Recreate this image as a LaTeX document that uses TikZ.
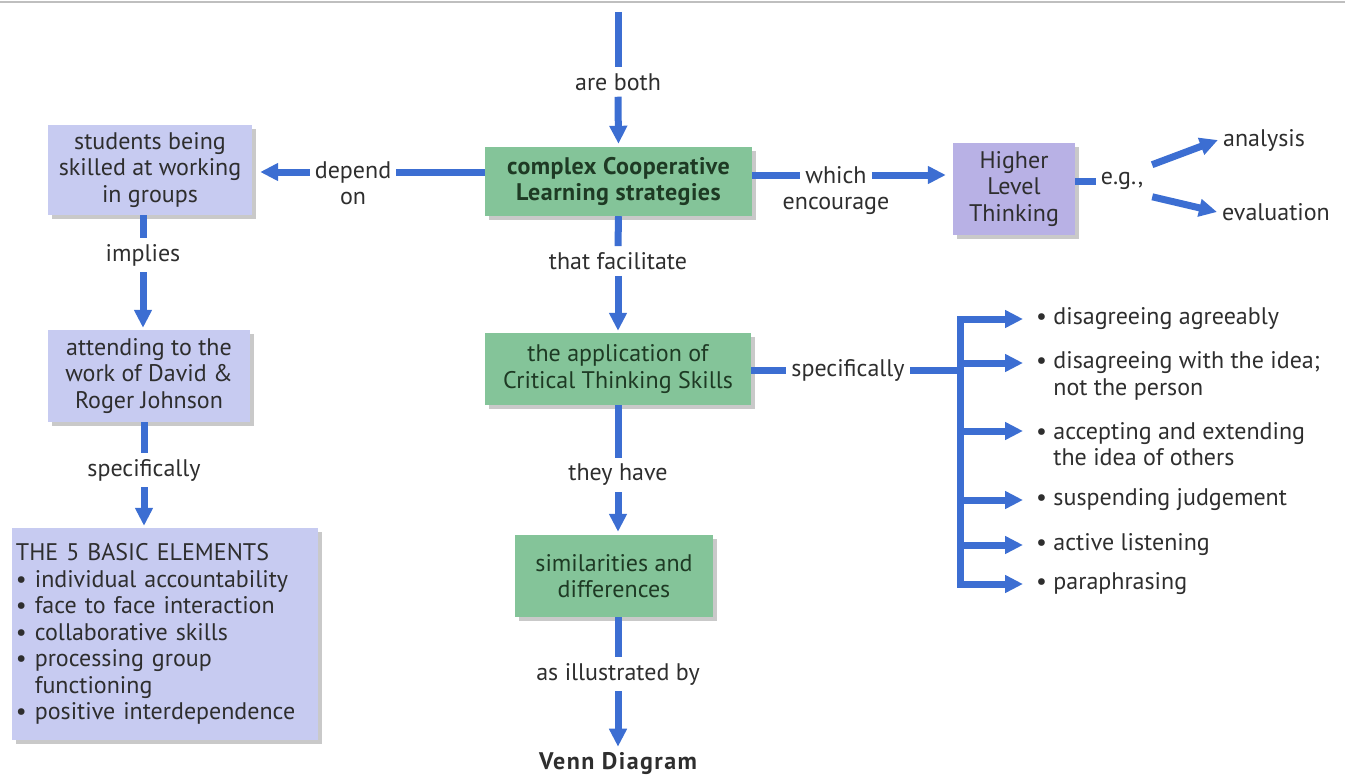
\documentclass[tikz,border=0pt]{standalone}
\usepackage{fontspec}
\setmainfont{PT Sans}
\usetikzlibrary{arrows.meta,shadows,calc}
\definecolor{arrowblue}{HTML}{3C6ED2}
\definecolor{boxgreen}{HTML}{84C499}
\definecolor{boxlav}{HTML}{C7CBF1}
\definecolor{boxpurple}{HTML}{B8B1E5}
\definecolor{textgray}{HTML}{2E2E2E}
\definecolor{textgreen}{HTML}{1E3A24}
\begin{document}
\begin{tikzpicture}[x=1pt,y=-1pt,
  every node/.style={font=\fontsize{24}{26.5}\selectfont, text=textgray},
  lbl/.style={inner xsep=5pt, inner ysep=6pt, align=center},
  boxbase/.style={draw=none, inner sep=0pt, align=center,
    drop shadow={shadow xshift=4pt, shadow yshift=-4pt, opacity=0.3, fill=black!70}},
  greenbox/.style={boxbase, fill=boxgreen, text=textgreen},
  lavbox/.style={boxbase, fill=boxlav},
  purplebox/.style={boxbase, fill=boxpurple},
  itembox/.style={anchor=west, inner sep=0pt, align=left},
  conn/.style={draw=arrowblue, line width=7pt},
  arr/.style={conn, -{Triangle[length=18pt,width=17pt]}},
]
\useasboundingbox (0,0) rectangle (1348,776);
\draw[gray!50, line width=2.5pt] (0,2) -- (1345,2);

% boxes
\node[greenbox, minimum width=267, minimum height=69, font=\fontsize{24}{26.5}\selectfont\bfseries\addfontfeature{LetterSpace=2}] (ccl) at (618.5,181.5) {complex Cooperative\\Learning strategies};
\node[greenbox, minimum width=266, minimum height=72] (app) at (618,369) {the application of\\Critical Thinking Skills};
\node[greenbox, minimum width=198, minimum height=82] (sim) at (614,576) {similarities and\\differences};
\node[lavbox, minimum width=204, minimum height=90] (stud) at (150,170) {students being\\skilled at working\\in groups};
\node[lavbox, minimum width=202, minimum height=92] (attend) at (149,376) {attending to the\\work of David \&\\Roger Johnson};
\node[lavbox, minimum width=306, minimum height=212, text width=298, align=left, inner xsep=4pt] (five) at (165,634)
  {THE 5 BASIC ELEMENTS\\
   • individual accountability\\
   • face to face interaction\\
   • collaborative skills\\
   • processing group\\
   \hphantom{• }functioning\\
   • positive interdependence};
\node[purplebox, minimum width=122, minimum height=92] (hlt) at (1014,189) {Higher\\Level\\Thinking};

% labels
\coordinate (topend) at (618,12);
\node[lbl] (areboth) at (618,82) {are both};
\node[lbl] (depend) at (353,172) {depend};
\node[lbl, inner ysep=0pt, anchor=base] (on) at ($(depend.base)+(0,26.5)$) {on};
\node[lbl] (which) at (836,175) {which};
\node[lbl, inner ysep=0pt, anchor=base] (encourage) at ($(which.base)+(0,26.5)$) {encourage};
\node[lbl] (eg) at (1122,181) {e.g.,};
\node[lbl] (analysis) at (1264,140) {analysis};
\node[lbl] (evaluation) at (1276,212) {evaluation};
\node[lbl] (implies) at (143,255) {implies};
\node[lbl] (spec1) at (144,470) {specifically};
\node[lbl] (facil) at (618,261) {that facilitate};
\node[lbl] (theyhave) at (618,475) {they have};
\node[lbl] (illus) at (618,674) {as illustrated by};
\node[lbl, font=\fontsize{24}{26}\selectfont\bfseries\addfontfeature{LetterSpace=6}] (venn) at (618,764) {Venn Diagram};
\node[lbl] (spec2) at (848,370) {specifically};

% items
\node[itembox] (it1) at (1036,319) {• disagreeing agreeably};
\node[itembox] (it2) at (1036,376) {• disagreeing with the idea;\\\hphantom{• }not the person};
\node[itembox] (it3) at (1036,444) {• accepting and extending\\\hphantom{• }the idea of others};
\node[itembox] (it4) at (1036,500) {• suspending judgement};
\node[itembox] (it5) at (1036,545) {• active listening};
\node[itembox] (it6) at (1036,584) {• paraphrasing};

\coordinate (t1) at ($(it1.west)+(-13,0)$);
\coordinate (t2) at ($(it2.west)+(-13,-13)$);
\coordinate (t3) at ($(it3.west)+(-13,-13)$);
\coordinate (t4) at ($(it4.west)+(-13,0)$);
\coordinate (t5) at ($(it5.west)+(-13,0)$);
\coordinate (t6) at ($(it6.west)+(-13,0)$);
\coordinate (sp) at (960,370);

% center column
\draw[conn] (topend) -- (areboth.north);
\draw[arr, shorten >=3pt] (areboth.south) -- (ccl.north);
\draw[conn] (ccl.south) -- (facil.north);
\draw[arr, shorten >=2pt] (facil.south) -- (app.north);
\draw[conn] (app.south) -- (theyhave.north);
\draw[arr, shorten >=3pt] (theyhave.south) -- (theyhave.south |- sim.north);
\draw[conn] (illus.north |- sim.south) -- (illus.north);
\draw[arr] (illus.south) -- (venn.north);

% left
\draw[conn] (ccl.west |- depend.east) -- (depend.east);
\draw[arr, shorten >=8pt] (depend.west) -- (depend.west -| stud.east);
\draw[conn] (implies.north |- stud.south) -- (implies.north);
\draw[arr, shorten >=2pt] (implies.south) -- (implies.south |- attend.north);
\draw[conn] (spec1.north |- attend.south) -- (spec1.north);
\draw[arr, shorten >=2pt] (spec1.south) -- (spec1.south |- five.north);

% right top
\draw[conn] (ccl.east |- which.west) -- (which.west);
\draw[arr, shorten >=7pt] (which.east) -- (which.east -| hlt.west);
\draw[conn] (hlt.east |- eg.west) -- (eg.west);
\draw[arr, shorten <=4pt] (eg.north east) -- (analysis.west);
\draw[arr, shorten <=4pt] (eg.south east) -- (evaluation.west);

% right bracket
\draw[conn] (app.east |- spec2.west) -- (spec2.west);
\draw[conn] (spec2.east) -- (sp);
\draw[conn, line cap=rect] (sp |- t1) -- (sp |- t6);
\foreach \t in {t1,t2,t3,t4,t5,t6}
  \draw[arr] (sp |- \t) -- (\t);
\end{tikzpicture}
\end{document}
